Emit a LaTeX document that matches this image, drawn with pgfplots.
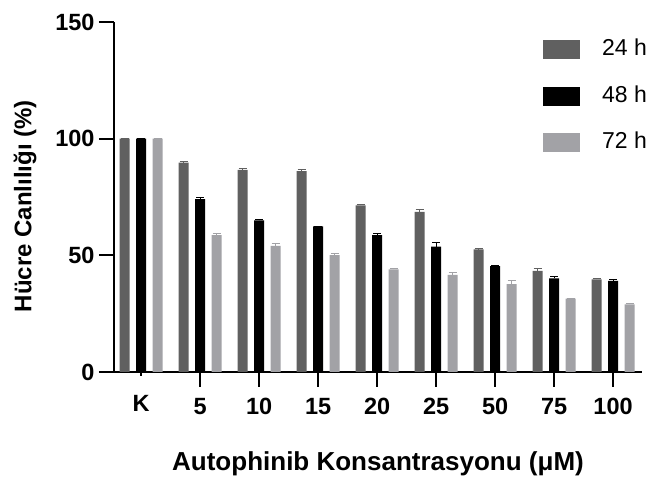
\documentclass[border=0pt]{standalone}
\usepackage{fontspec}
\setmainfont{Liberation Sans}
\usepackage{pgfplots}
\usepackage{pgfplotstable}
\pgfplotsset{compat=1.18}
\definecolor{c24}{HTML}{606060}
\definecolor{c48}{HTML}{000000}
\definecolor{c72}{HTML}{A2A2A6}
\pgfplotstableread{
x y24 e24 y48 e48 y72 e72
0 100 0 100 0 100 0
1 89.7 0.5 74.1 0.5 58.7 0.5
2 86.6 0.8 65 0.5 54 1.2
3 86.1 0.5 62.4 0 50.1 0.5
4 71.4 0.5 58.7 0.5 44 0.5
5 68.6 1 53.7 2 41.6 1
6 52.6 0.3 45.4 0.4 37.7 1.5
7 43.3 1 40.1 0.8 31.4 0.3
8 39.7 0.5 39 0.8 29 0.5
}\datatab
\begin{document}
\begin{tikzpicture}[x=1pt,y=1pt]
\path[use as bounding box] (-114,-107) rectangle (543,372);
\begin{axis}[
 scale only axis, width=528pt, height=350pt,
 at={(0,0)}, anchor=south west,
 xmin=-0.46, xmax=8.49, ymin=0, ymax=150,
 axis x line*=bottom, axis y line*=left,
 axis line style={-, line width=2pt, black},
 ybar=6.5pt, bar width=10pt,
 ytick={0,50,100,150},
 xtick={1,2,3,4,5,6,7,8},
 xticklabels={5,10,15,20,25,50,75,100},
 extra x ticks={0}, extra x tick labels={K},
 extra x tick style={major tick length=4pt, xticklabel style={yshift=-7.5pt}},
 tick align=outside,
 major tick length=15pt,
 tick style={line width=2pt, black},
 /pgf/number format/assume math mode=true,
 yticklabel style={font=\bfseries\fontsize{23.5}{24}\selectfont, xshift=-1pt},
 xticklabel style={font=\bfseries\fontsize{23.5}{24}\selectfont, anchor=north, yshift=-8pt},
 xlabel={Autophinib Konsantrasyonu (μM)},
 ylabel={Hücre Canlılığı (\%)},
 xlabel style={font=\bfseries\fontsize{26}{26}\selectfont, at={(axis description cs:0.5,-0.262)}, anchor=center},
 ylabel style={font=\bfseries\fontsize{24}{24}\selectfont, at={(axis description cs:-0.1686,0.474)}, anchor=center},
 legend style={at={(axis description cs:0.8125,0.95)}, anchor=north west, draw=none, fill=none, inner sep=0pt,
   font=\fontsize{23}{23}\selectfont, row sep=27pt,
   nodes={inner sep=0pt, text height=16pt, text depth=0pt},
   /tikz/every odd column/.append style={column sep=22pt}},
 legend cell align=left,
 legend image code/.code={\fill[#1] (0pt,-11.5pt) rectangle (37pt,7.5pt);},
 error bars/y dir=plus, error bars/y explicit,
 clip=false,
]
\addplot[fill=c24, draw=none, error bars/error bar style={c24, line width=1pt}, error bars/error mark options={rotate=90, c24, line width=1pt, mark size=4pt}] table[x=x, y=y24, y error=e24] {\datatab};
\addplot[fill=c48, draw=none, error bars/error bar style={c48, line width=1pt}, error bars/error mark options={rotate=90, c48, line width=1pt, mark size=4pt}] table[x=x, y=y48, y error=e48] {\datatab};
\addplot[fill=c72, draw=none, error bars/error bar style={c72, line width=1pt}, error bars/error mark options={rotate=90, c72, line width=1pt, mark size=4pt}] table[x=x, y=y72, y error=e72] {\datatab};
\legend{24 h, 48 h, 72 h}
\end{axis}
\end{tikzpicture}
\end{document}
